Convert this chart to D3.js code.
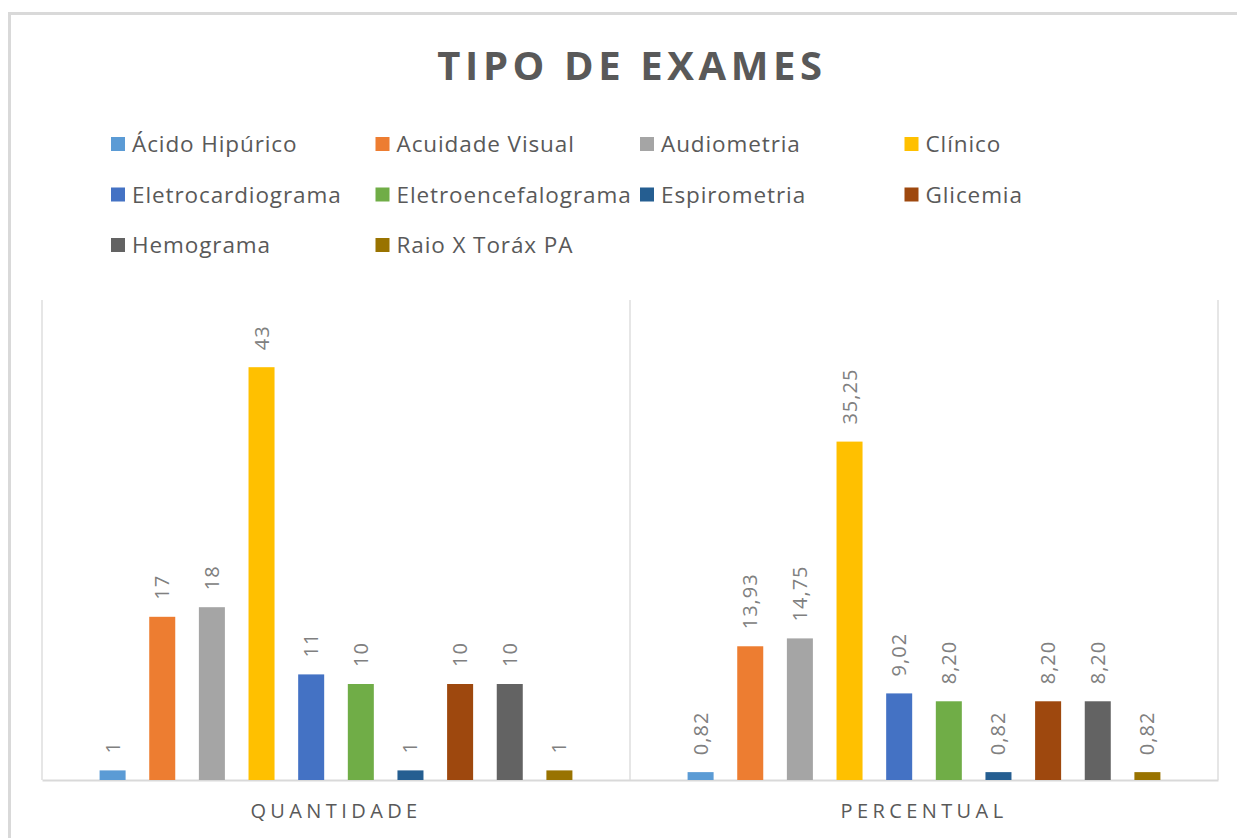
<!DOCTYPE html>
<html lang="pt">
<head>
    <meta charset="UTF-8">
    <title>Tipo de Exames</title>
    <script src="https://cdn.jsdelivr.net/npm/d3@7/dist/d3.min.js"></script>
    <style>
      body { margin: 0; background: #fff; }
      text { font-family: "Open Sans", sans-serif; }
    </style>
</head>
<body>
<div class="chart"></div>
<script>
  // dados
  const grupos = ['QUANTIDADE', 'PERCENTUAL'];
  const exames = ['Ácido Hipúrico', 'Acuidade Visual', 'Audiometria', 'Clínico',
    'Eletrocardiograma', 'Eletroencefalograma', 'Espirometria', 'Glicemia',
    'Hemograma', 'Raio X Toráx PA'];
  const quantidade = [1, 17, 18, 43, 11, 10, 1, 10, 10, 1];
  const percentual = [0.82, 13.93, 14.75, 35.25, 9.02, 8.20, 0.82, 8.20, 8.20, 0.82];
  const cores = ['#5B9BD5', '#ED7D31', '#A5A5A5', '#FFC000', '#4472C4', '#70AD47',
    '#255E91', '#9E480E', '#636363', '#997300'];

  const W = 1237, H = 838;
  const plot = {left: 42, right: 1218, top: 300, bottom: 780};

  const svg = d3.select('.chart').append('svg')
    .attr('width', W).attr('height', H);

  // moldura
  svg.append('rect')
    .attr('x', 9.5).attr('y', 13.5).attr('width', W + 20).attr('height', H + 20)
    .attr('fill', '#fff').attr('stroke', '#d9d9d9').attr('stroke-width', 3);

  const pt = d3.formatLocale({decimal: ',', thousands: '.', grouping: [3], currency: ['R$', '']});
  const series = {
    QUANTIDADE: {values: quantidade, fmt: d3.format('d')},
    PERCENTUAL: {values: percentual, fmt: pt.format('.2f')}
  };

  const x0 = d3.scaleBand().domain(grupos).range([plot.left, plot.right]).padding(0);
  const x1 = d3.scaleBand().domain(exames).range([0, x0.bandwidth()])
    .paddingInner(0.476).paddingOuter(1.16);
  const y = d3.scaleLinear().domain([0, 50]).range([plot.bottom, plot.top]);
  const color = d3.scaleOrdinal().domain(exames).range(cores);

  // titulo
  svg.append('text')
    .attr('x', (plot.left + plot.right) / 2 + 2).attr('y', 80)
    .attr('text-anchor', 'middle')
    .style('font-size', '40px').style('font-weight', 'bold')
    .style('letter-spacing', '4.6px').attr('fill', '#595959')
    .text('TIPO DE EXAMES');

  // legenda
  const leg = svg.append('g').selectAll('g').data(exames).enter().append('g')
    .attr('transform', (d, i) => `translate(${111 + (i % 4) * 264.5} ${152 + Math.floor(i / 4) * 50.5})`);
  leg.append('rect').attr('x', 0).attr('y', -15).attr('width', 14).attr('height', 14)
    .attr('fill', d => color(d));
  leg.append('text').attr('x', 21).attr('y', 0)
    .style('font-size', '22.5px').style('letter-spacing', '0.9px').attr('fill', '#595959')
    .text(d => d);

  // linhas de grade verticais entre categorias
  const cortes = grupos.map(g => x0(g)).concat([plot.right]);
  svg.append('g').selectAll('line').data(cortes).enter().append('line')
    .attr('x1', d => d).attr('x2', d => d)
    .attr('y1', plot.top).attr('y2', plot.bottom)
    .attr('stroke', '#d9d9d9').attr('stroke-width', 1.3);

  // eixo x
  const xAxis = d3.axisBottom(x0).tickSize(0).tickPadding(24);
  const gx = svg.append('g').attr('transform', `translate(0 ${plot.bottom})`).call(xAxis);
  gx.select('.domain').attr('stroke', '#d9d9d9').attr('stroke-width', 2);
  gx.selectAll('.tick text')
    .attr('fill', '#595959')
    .style('font-family', '"Open Sans", sans-serif')
    .style('font-size', '20px').style('letter-spacing', '4.4px');

  // barras
  const bars = svg.selectAll('.grupo').data(grupos).enter().append('g')
    .attr('class', 'grupo').attr('transform', d => `translate(${x0(d)} 0)`);

  const itens = bars.selectAll('g')
    .data(g => exames.map((e, i) => ({exame: e, value: series[g].values[i], fmt: series[g].fmt})))
    .enter().append('g');

  itens.append('rect')
    .attr('x', d => x1(d.exame))
    .attr('y', d => y(d.value))
    .attr('width', x1.bandwidth())
    .attr('height', d => plot.bottom - y(d.value))
    .attr('fill', d => color(d.exame));

  itens.append('text')
    .attr('transform', d => `translate(${x1(d.exame) + x1.bandwidth() / 2} ${y(d.value) - 17}) rotate(-90)`)
    .attr('dy', '0.35em')
    .style('font-size', '20px').style('letter-spacing', '1px')
    .attr('fill', '#808080')
    .text(d => d.fmt(d.value));
</script>
</body>
</html>
